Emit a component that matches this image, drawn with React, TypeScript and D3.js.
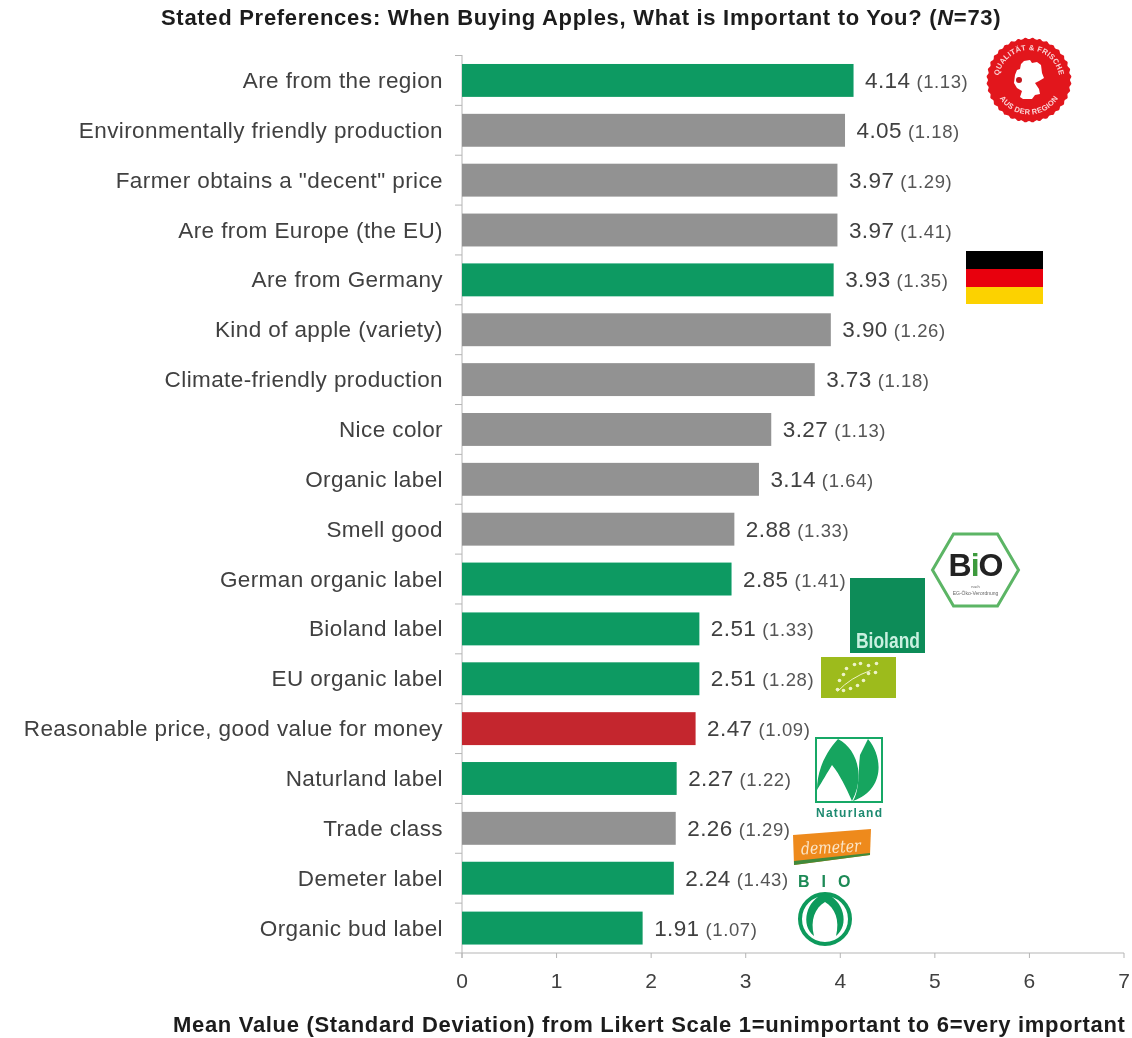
import React from "react";
import * as d3 from "d3";

const categories = [
  "Are from the region", "Environmentally friendly production", 'Farmer obtains a "decent" price',
  "Are from Europe (the EU)", "Are from Germany", "Kind of apple (variety)", "Climate-friendly production",
  "Nice color", "Organic label", "Smell good", "German organic label", "Bioland label", "EU organic label",
  "Reasonable price, good value for money", "Naturland label", "Trade class", "Demeter label", "Organic bud label",
];
const means = [4.14, 4.05, 3.97, 3.97, 3.93, 3.9, 3.73, 3.27, 3.14, 2.88, 2.85, 2.51, 2.51, 2.47, 2.27, 2.26, 2.24, 1.91];
const sds = [1.13, 1.18, 1.29, 1.41, 1.35, 1.26, 1.18, 1.13, 1.64, 1.33, 1.41, 1.33, 1.28, 1.09, 1.22, 1.29, 1.43, 1.07];
const groups = ["g", "n", "n", "n", "g", "n", "n", "n", "n", "n", "g", "g", "g", "r", "g", "n", "g", "g"];
const xTicks = [0, 1, 2, 3, 4, 5, 6, 7];
const groupColors: Record<string, string> = { g: "#0b9a62", n: "#929292", r: "#c4262e" };

const FONT = "'Liberation Sans', Arial, sans-serif";
const TEXT = "#404040";

const x = d3.scaleLinear().domain([0, 7]).range([462, 1124]);
const y = d3.scaleBand<string>().domain(categories).range([55.5, 953]).paddingInner(0.34).paddingOuter(0.17);

const GERMANY = "M-5,-19 L1,-20 L3,-17 L8,-18 L12,-15 L13,-7 L15,-2 L10,1 L6,3 L10,9 L11,14 L6,15 L3,19 L-6,19 L-9,17 L-7,11 L-12,8 L-15,3 L-14,-5 L-12,-10 L-9,-11 L-8,-16 Z";
const sealPoints = d3.range(0, 72).map((i) => {
  const a = (i / 72) * Math.PI * 2;
  const r = i % 2 ? 42.5 : 41;
  return [Math.cos(a) * r, Math.sin(a) * r] as [number, number];
});
const sealPath = d3.line().curve(d3.curveCardinalClosed)(sealPoints) || "";
const hexPoints = [[-43, 0], [-22, -36], [22, -36], [43, 0], [22, 36], [-22, 36]].map((p) => p.join(",")).join(" ");

const euStars = [[-21, 12], [-15, 13], [-8, 11], [-1, 8], [5, 3], [10, -4], [-19, 3], [-15, -3], [-12, -9], [-4, -13], [2, -14], [10, -12], [18, -14], [17, -5]];

function Logos() {
  return (
    <g>
      {/* regional seal */}
      <g transform="translate(1029,80)">
        <path d={sealPath} fill="#e2141e" />
        <defs>
          <path id="sealTop" d="M-30,6 A30.5,30.5 0 1 1 30,6" />
          <path id="sealBottom" d="M-33,10 A34.5,34.5 0 0 0 33,10" />
        </defs>
        <text fontFamily={FONT} fontSize={7.5} fontWeight="bold" fill="#fbd6d6" letterSpacing={0.3}>
          <textPath href="#sealTop" startOffset="50%" textAnchor="middle">QUALITÄT &amp; FRISCHE</textPath>
        </text>
        <text fontFamily={FONT} fontSize={7.5} fontWeight="bold" fill="#fbd6d6" letterSpacing={0.3}>
          <textPath href="#sealBottom" startOffset="50%" textAnchor="middle">AUS DER REGION</textPath>
        </text>
        <path d={GERMANY} fill="#fff" />
        <circle cx={-10} cy={0} r={3} fill="#c0141c" />
      </g>
      {/* flag */}
      <rect x={966} y={251} width={77} height={18} fill="#000" />
      <rect x={966} y={269} width={77} height={18} fill="#e8000b" />
      <rect x={966} y={287} width={77} height={17} fill="#fcd205" />
      {/* hexagon bio */}
      <g transform="translate(975.5,570)">
        <polygon points={hexPoints} fill="#fff" stroke="#5bb565" strokeWidth={3} />
        <text x={0} y={6} textAnchor="middle" fontFamily={FONT} fontSize={32} fontWeight="bold" fill="#222" letterSpacing={-1}>
          B<tspan fill="#3c9a3c">i</tspan>O
        </text>
        <text x={0} y={18} textAnchor="middle" fontFamily={FONT} fontSize={4} fill="#666">nach</text>
        <text x={0} y={25} textAnchor="middle" fontFamily={FONT} fontSize={5} fill="#666">EG-Öko-Verordnung</text>
      </g>
      {/* bioland */}
      <rect x={850} y={578} width={75} height={75} fill="#0b8c58" />
      <text x={888} y={648} textAnchor="middle" fontFamily={FONT} fontSize={22} fontWeight="bold" fill="#c9f0e0" textLength={64} lengthAdjust="spacingAndGlyphs">Bioland</text>
      {/* EU leaf */}
      <g transform="translate(858.5,677.5)">
        <rect x={-37.5} y={-20.5} width={75} height={41} fill="#9dbb1e" />
        {euStars.map(([sx, sy], i) => (
          <circle key={i} cx={sx} cy={sy} r={1.8} fill="#eef3c8" />
        ))}
        <path d="M-21,14 Q-8,0 12,-7" fill="none" stroke="#eef3c8" strokeWidth={1} />
      </g>
      {/* naturland */}
      <g>
        <rect x={816} y={738} width={66} height={64} fill="none" stroke="#16a866" strokeWidth={2} />
        <path d="M838,739 C856,748 866,775 852,801 C845,785 838,772 832,765 C826,775 820,785 817,790 C817,770 826,752 838,739 Z" fill="#12a55f" />
        <path d="M868,739 C884,758 884,790 853,801 C860,790 858,770 860,755 Z" fill="#12a55f" />
        <text x={849} y={817} textAnchor="middle" fontFamily={FONT} fontSize={12} fontWeight="bold" fill="#1e8a70" textLength={66} lengthAdjust="spacing">Naturland</text>
      </g>
      {/* demeter */}
      <path d="M793,835 L871,829 L870,855 L794,865 Z" fill="#ee8a1d" />
      <path d="M794,865 L870,855 L870,853 L794,861 Z" fill="#3f8a3a" />
      <text x={831} y={853} textAnchor="middle" fontFamily="'DejaVu Serif', serif" fontStyle="italic" fontSize={17} fill="#fbe6c8" textLength={60} lengthAdjust="spacingAndGlyphs" transform="rotate(-3 831 850)">demeter</text>
      {/* bio bud */}
      <text x={798} y={887} fontFamily={FONT} fontSize={16} fontWeight="bold" fill="#1f8a57" letterSpacing={12}>BIO</text>
      <circle cx={825} cy={919} r={25} fill="none" stroke="#119a5b" strokeWidth={4} />
      <path d="M825,893 C806,900 800,925 814,936 C810,920 815,908 825,902 C835,908 840,920 836,936 C850,925 844,900 825,893 Z" fill="#119a5b" />
    </g>
  );
}

export default function App() {
  return (
    <svg width={1132} height={1038} viewBox="0 0 1132 1038" style={{ position: "absolute", left: 0, top: 0, background: "#fff" }}>
      <defs>
        <filter id="soft" x="-2%" y="-2%" width="104%" height="104%">
          <feGaussianBlur stdDeviation="0.6" />
        </filter>
      </defs>
      <g filter="url(#soft)">
        <text x={161} y={25} fontFamily={FONT} fontSize={22} fontWeight="bold" fill="#1c1c1c" letterSpacing={0.7}>
          Stated Preferences: When Buying Apples, What is Important to You? (<tspan fontStyle="italic">N</tspan>=73)
        </text>

        {/* axis lines */}
        <line x1={462} x2={462} y1={55} y2={958} stroke="#b5b5b5" strokeWidth={1} />
        <line x1={455} x2={x(7)} y1={953} y2={953} stroke="#b5b5b5" strokeWidth={1} />
        {categories.map((c, i) => {
          const t = (y(c) as number) - (y.step() - y.bandwidth()) / 2;
          return <line key={i} x1={455} x2={462} y1={t} y2={t} stroke="#b5b5b5" />;
        })}
        {xTicks.map((t) => (
          <g key={t}>
            <line x1={x(t)} x2={x(t)} y1={953} y2={958} stroke="#b5b5b5" />
            <text x={x(t)} y={988} textAnchor="middle" fontFamily={FONT} fontSize={21} fill={TEXT}>{t}</text>
          </g>
        ))}

        {categories.map((c, i) => {
          const by = y(c) as number;
          const cy = by + y.bandwidth() / 2;
          return (
            <g key={c}>
              <rect x={x(0)} y={by} width={x(means[i]) - x(0)} height={y.bandwidth()} fill={groupColors[groups[i]]} />
              <text x={443} y={cy + 7.5} textAnchor="end" fontFamily={FONT} fontSize={22.5} letterSpacing={0.4} fill={TEXT}>{c}</text>
              <text x={x(means[i]) + 11.5} y={cy + 7.5} fontFamily={FONT} fontSize={22.5} letterSpacing={0.4} fill={TEXT}>
                {means[i].toFixed(2)}
                <tspan fontSize={18.5} letterSpacing={0.6} dx={6} fill="#555">({sds[i].toFixed(2)})</tspan>
              </text>
            </g>
          );
        })}

        <text x={173} y={1032} fontFamily={FONT} fontSize={22} fontWeight="bold" fill="#1c1c1c" letterSpacing={0.68}>
          Mean Value (Standard Deviation) from Likert Scale 1=unimportant to 6=very important
        </text>
        <Logos />
      </g>
    </svg>
  );
}
